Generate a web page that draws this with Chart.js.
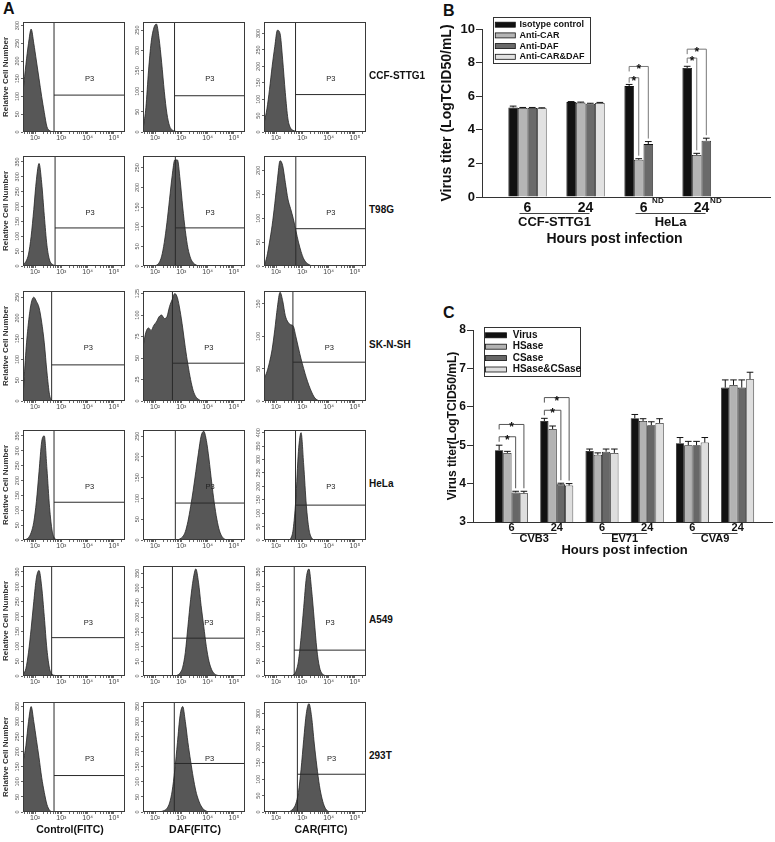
<!DOCTYPE html>
<html>
<head>
<meta charset="utf-8">
<script src="https://cdn.jsdelivr.net/npm/chart.js@4.4.1/dist/chart.umd.min.js"></script>
<style>
  body { margin: 0; background: #fff; }
  #fig { position: relative; width: 775px; height: 842px; overflow: hidden; font-family: "Liberation Sans", Arial, sans-serif; }
  #fig canvas { position: absolute; }
  .lbl { position: absolute; font-weight: bold; color: #111; white-space: nowrap; }
</style>
</head>
<body>
<div id="fig"></div>
<script>
  // ---- panel A: flow histograms (counts per log10 fluorescence bin) ----
  const logBins = [1.55,1.65,1.75,1.85,1.95,2.05,2.15,2.25,2.35,2.45,2.55,2.65,2.75,2.85,2.95,3.05,3.15,3.25,3.35,3.45,3.55,3.65,3.75,3.85,3.95,4.05,4.15,4.25,4.35,4.45,4.55,4.65,4.75,4.85,4.95,5.05,5.15,5.25,5.35];
  const cellLines = ['CCF-STTG1', 'T98G', 'SK-N-SH', 'HeLa', 'A549', '293T'];
  const stains = ['Control(FITC)', 'DAF(FITC)', 'CAR(FITC)'];

  const ccfControl  = [120,190,250,290,250,200,150,100,55,15,4,1,0];
  const ccfDAF      = [10,60,150,220,255,265,230,170,100,45,15,5,2,0];
  const ccfCAR      = [30,70,130,200,260,310,300,220,120,40,12,5,2,0];
  const t98gControl = [5,15,40,100,190,290,345,280,170,70,20,6,2,0];
  const t98gDAF     = [0,0,0,0,0,2,8,25,60,110,170,230,270,270,220,150,90,45,20,8,3,0];
  const t98gCAR     = [0,20,50,85,130,180,220,210,175,140,120,100,75,50,30,15,7,3,0];
  const skControl   = [20,120,190,235,250,240,225,190,140,70,15,0];
  const skDAF       = [65,80,85,82,88,92,98,100,96,98,110,118,125,120,105,85,62,42,25,12,5,2,0];
  const skCAR       = [35,45,60,80,110,145,168,155,132,122,118,116,100,82,65,50,36,24,14,6,2,0];
  const helaControl = [0,2,8,25,60,130,230,330,350,240,110,30,5,0];
  const helaDAF     = [0,0,0,0,0,0,0,0,0,0,0,0,0,0,3,8,20,45,80,120,165,210,250,262,240,195,140,90,50,22,8,2,0];
  const helaCAR     = [0,0,0,0,0,0,0,0,0,0,5,40,150,330,400,280,130,40,8,0];
  const a549Control = [5,25,80,160,250,330,355,300,200,90,25,6,2,0];
  const a549DAF     = [0,0,0,0,0,0,0,0,0,0,0,0,0,3,10,30,80,170,260,330,365,320,240,170,100,50,22,8,3,0];
  const a549CAR     = [0,0,0,0,0,0,0,0,0,0,0,3,15,50,130,230,330,360,290,190,90,30,8,2,0];
  const t293Control = [170,220,300,350,300,240,180,115,65,25,6,0];
  const t293DAF     = [0,0,0,0,0,0,0,2,5,12,30,70,140,230,320,350,300,230,170,115,70,40,20,8,3,0];
  const t293CAR     = [0,0,0,0,0,0,0,0,0,0,3,10,25,60,130,220,300,330,290,210,140,80,40,15,4,0];

  const histMax  = [[310,270,335],[370,280,230],[265,128,170],[370,265,410],[370,375,370],[365,365,335]];
  const histStep = [[50,50,50],[50,50,50],[50,25,50],[50,50,50],[50,50,50],[50,50,50]];
  const gateX    = [[2.72,2.74,2.74],[2.76,2.77,2.75],[2.63,2.66,2.64],[2.72,2.77,2.74],[2.63,2.66,2.69],[2.72,2.73,2.81]];
  const gateY    = [[104,89,114],[128,97,78],[87,44,60],[127,89,130],[129,129,87],[121,161,115]];

  // ---- panel B ----
  const hoursB = ['6', '24', '6', '24'];
  const cellsB = ['CCF-STTG1', 'HeLa'];
  const isotype = [5.33, 5.65, 6.6, 7.68],  isotypeErr = [0.08, 0.03, 0.1, 0.1];
  const antiCAR = [5.3, 5.62, 2.22, 2.5],   antiCARErr = [0.03, 0.03, 0.06, 0.1];
  const antiDAF = [5.3, 5.55, 3.15, 3.35],  antiDAFErr = [0.03, 0.03, 0.15, 0.15];
  const antiBoth = [5.28, 5.6, null, null], antiBothErr = [0.03, 0.03, 0, 0];
  const sigB = [[2, 0, 1, 7.1], [2, 0, 2, 7.77], [3, 0, 1, 8.27], [3, 0, 2, 8.8]];

  // ---- panel C ----
  const hoursC = ['6', '24', '6', '24', '6', '24'];
  const virusesC = ['CVB3', 'EV71', 'CVA9'];
  const virus = [4.87, 5.63, 4.85, 5.7, 5.05, 6.5],  virusErr = [0.13, 0.07, 0.05, 0.1, 0.15, 0.2];
  const hsase = [4.8, 5.42, 4.75, 5.63, 5.0, 6.57],  hsaseErr = [0.04, 0.08, 0.05, 0.06, 0.1, 0.13];
  const csase = [3.77, 3.98, 4.83, 5.52, 5.0, 6.5],  csaseErr = [0.03, 0.03, 0.07, 0.09, 0.1, 0.2];
  const hcsase = [3.75, 3.95, 4.8, 5.58, 5.07, 6.72], hcsaseErr = [0.05, 0.05, 0.1, 0.11, 0.13, 0.18];
  const sigC = [[0, 0, 2, 5.22], [0, 0, 3, 5.54], [1, 0, 2, 5.91], [1, 0, 3, 6.24]];

  const FAM = '"Liberation Sans", Arial, sans-serif';
  Chart.defaults.font.family = FAM;
  const fig = document.getElementById('fig');

  function mk(left, top, w, h) {
    const c = document.createElement('canvas');
    c.width = w; c.height = h;
    c.style.left = left + 'px'; c.style.top = top + 'px';
    c.style.width = w + 'px'; c.style.height = h + 'px';
    fig.appendChild(c);
    return c;
  }
  function label(text, left, top, size, extra) {
    const d = document.createElement('div');
    d.className = 'lbl';
    d.textContent = text;
    d.style.cssText += `left:${left}px;top:${top}px;font-size:${size}px;line-height:${size}px;` + (extra || '');
    fig.appendChild(d);
  }
  const fixSize = (prop, px) => scale => {
    scale[prop] = px;
    scale.paddingLeft = scale.paddingRight = scale.paddingTop = scale.paddingBottom = 0;
  };

  // frame + P3 gate label for the histograms
  const histFrame = {
    id: 'histFrame',
    afterDatasetsDraw(chart, args, o) {
      const {ctx, chartArea: a, scales: {x}} = chart;
      ctx.save();
      ctx.strokeStyle = '#3a3a3a'; ctx.lineWidth = 1;
      ctx.strokeRect(Math.round(a.left) + 0.5, Math.round(a.top) + 0.5, Math.round(a.width) - 1, Math.round(a.height) - 1);
      const gx = x.getPixelForValue(o.gate);
      ctx.fillStyle = '#222';
      ctx.font = '7.5px ' + FAM;
      ctx.textAlign = 'center'; ctx.textBaseline = 'middle';
      ctx.fillText('P3', (gx + a.right) / 2, a.top + a.height * 0.52);
      ctx.restore();
    }
  };

  const sup = {2: '\u00b2', 3: '\u00b3', 4: '\u2074', 5: '\u2075'};
  const logMin = 1.54, logMax = 5.42;
  const xTickVals = [];
  for (let n = 1; n <= 5; n++) for (let k = 1; k <= 9; k++) {
    const v = Math.log10(k) + n;
    if (v > logMin && v < logMax) xTickVals.push(v);
  }
  const histRows = [
    [ccfControl, ccfDAF, ccfCAR],
    [t98gControl, t98gDAF, t98gCAR],
    [skControl, skDAF, skCAR],
    [helaControl, helaDAF, helaCAR],
    [a549Control, a549DAF, a549CAR],
    [t293Control, t293DAF, t293CAR]
  ];
  const rowTop = [22, 156, 291, 430, 566, 702];
  const colLeft = [23, 143, 264];

  histRows.forEach((row, r) => row.forEach((counts, c) => {
    const yw = c === 0 ? 23 : 18;
    const ymax = histMax[r][c], gx = gateX[r][c], gy = gateY[r][c];
    new Chart(mk(colLeft[c] - yw, rowTop[r] - 2, yw + 104, 125), {
      type: 'line',
      data: {
        datasets: [
          { data: [{x: gx, y: 0}, {x: gx, y: ymax}], borderColor: '#2a2a2a', borderWidth: 1, pointRadius: 0 },
          { data: [{x: gx, y: gy}, {x: logMax, y: gy}], borderColor: '#2a2a2a', borderWidth: 1, pointRadius: 0 },
          {
            data: counts.map((v, i) => ({x: logBins[i], y: v})),
            fill: 'origin', backgroundColor: '#575757', borderColor: '#262626', borderWidth: 0.8,
            pointRadius: 0, cubicInterpolationMode: 'monotone'
          }
        ]
      },
      options: {
        responsive: false, animation: false,
        layout: { padding: { top: 2, right: 2, left: 0, bottom: 0 } },
        plugins: { legend: { display: false }, tooltip: { enabled: false }, histFrame: { gate: gx } },
        scales: {
          x: {
            type: 'linear', min: logMin, max: logMax,
            afterBuildTicks: s => { s.ticks = xTickVals.map(v => ({value: v})); },
            afterFit: fixSize('height', 13),
            ticks: {
              autoSkip: false, maxRotation: 0, padding: 0, color: '#444', font: { size: 7 },
              callback: v => Math.abs(v - Math.round(v)) < 1e-9 ? '10' + sup[Math.round(v)] : ''
            },
            grid: { drawOnChartArea: false, tickLength: 2, color: '#666' },
            border: { display: false }
          },
          y: {
            min: 0, max: ymax,
            afterFit: fixSize('width', yw),
            ticks: { stepSize: histStep[r][c], includeBounds: false, minRotation: 90, maxRotation: 90,
                     crossAlign: 'center', padding: -1, color: '#555', font: { size: 5.5 } },
            grid: { drawOnChartArea: false, tickLength: 2, color: '#666' },
            border: { display: false },
            title: c === 0
              ? { display: true, text: 'Relative Cell Number', color: '#333', font: { size: 8, weight: 'bold' }, padding: { top: 1, bottom: 0 } }
              : { display: false }
          }
        }
      },
      plugins: [histFrame]
    });
  }));

  cellLines.forEach((name, r) => label(name, 369, rowTop[r] + 49, 10));
  [70, 195, 321].forEach((cx, c) => label(stains[c], cx, 824, 10.5, 'transform:translateX(-50%);'));
  label('A', 3, 1, 16);
  label('B', 443, 3, 16);
  label('C', 443, 305, 16);

  // ---- shared bar chart plugins ----
  const errorBars = {
    id: 'errorBars',
    afterDatasetsDraw(chart, args, o) {
      const {ctx, scales: {y}} = chart;
      ctx.save();
      ctx.strokeStyle = '#111'; ctx.lineWidth = 1;
      chart.data.datasets.forEach((ds, di) => {
        chart.getDatasetMeta(di).data.forEach((bar, i) => {
          const v = ds.data[i].y, e = ds.errors[i];
          if (v == null || !e) return;
          const y0 = y.getPixelForValue(v), y1 = y.getPixelForValue(v + e);
          const cw = bar.width * o.cap / 2;
          ctx.beginPath();
          ctx.moveTo(bar.x, y0); ctx.lineTo(bar.x, y1);
          ctx.moveTo(bar.x - cw, y1); ctx.lineTo(bar.x + cw, y1);
          ctx.stroke();
        });
      });
      ctx.restore();
    }
  };

  const sigBrackets = {
    id: 'sigBrackets',
    afterDatasetsDraw(chart, args, o) {
      const {ctx, scales: {y}} = chart;
      const ds = chart.data.datasets;
      ctx.save();
      ctx.lineWidth = 1;
      ctx.font = 'bold 12px ' + FAM;
      ctx.textAlign = 'center'; ctx.textBaseline = 'alphabetic';
      o.marks.forEach(([g, a, b, level]) => {
        const pa = chart.getDatasetMeta(a).data[g], pb = chart.getDatasetMeta(b).data[g];
        const ly = y.getPixelForValue(level);
        const tb = y.getPixelForValue(ds[b].data[g].y + ds[b].errors[g]) - 3;
        ctx.strokeStyle = o.color;
        ctx.beginPath();
        ctx.moveTo(pa.x, ly + 5); ctx.lineTo(pa.x, ly); ctx.lineTo(pb.x, ly); ctx.lineTo(pb.x, tb);
        ctx.stroke();
        ctx.fillStyle = '#111';
        ctx.fillText('*', (pa.x + pb.x) / 2, ly + 7);
      });
      ctx.restore();
    }
  };

  const boxLegend = {
    id: 'boxLegend',
    afterDraw(chart, args, o) {
      const {ctx, chartArea: a} = chart;
      const left = Math.round(a.left + o.x), top = Math.round(a.top + o.y);
      ctx.save();
      ctx.fillStyle = '#fff';
      ctx.fillRect(left, top, o.w, o.h);
      ctx.strokeStyle = '#333'; ctx.lineWidth = 1;
      ctx.strokeRect(left + 0.5, top + 0.5, o.w, o.h);
      ctx.font = `bold ${o.size}px ${FAM}`;
      ctx.textBaseline = 'middle'; ctx.textAlign = 'left';
      chart.data.datasets.forEach((ds, i) => {
        const cy = top + o.first + i * o.row;
        ctx.fillStyle = ds.backgroundColor;
        ctx.fillRect(left + o.sx, cy - o.sh / 2, o.sw, o.sh);
        ctx.strokeStyle = '#111'; ctx.lineWidth = 0.8;
        ctx.strokeRect(left + o.sx, cy - o.sh / 2, o.sw, o.sh);
        ctx.fillStyle = '#111';
        ctx.fillText(ds.label, left + o.tx, cy);
      });
      ctx.restore();
    }
  };

  const groupAxis = {
    id: 'groupAxis',
    afterDraw(chart, args, o) {
      const {ctx, chartArea: a, scales: {x}} = chart;
      ctx.save();
      ctx.strokeStyle = '#444'; ctx.lineWidth = 1;
      ctx.fillStyle = '#111'; ctx.textAlign = 'center'; ctx.textBaseline = 'middle';
      ctx.font = `bold ${o.size}px ${FAM}`;
      o.names.forEach((name, i) => {
        const x0 = x.getPixelForValue(2 * i + 1) + o.extL, x1 = x.getPixelForValue(2 * i + 2) + o.extR;
        const ly = Math.round(a.bottom + o.lineY) + 0.5;
        ctx.beginPath(); ctx.moveTo(x0, ly); ctx.lineTo(x1, ly); ctx.stroke();
        ctx.fillText(name, (x0 + x1) / 2, a.bottom + o.textY);
      });
      ctx.font = `bold ${o.titleSize}px ${FAM}`;
      const xm = (x.getPixelForValue(1) + x.getPixelForValue(o.names.length * 2)) / 2;
      ctx.fillText('Hours post infection', xm, a.bottom + o.titleY);
      ctx.restore();
    }
  };

  const notDetected = {
    id: 'notDetected',
    afterDatasetsDraw(chart, args, o) {
      const {ctx, chartArea: a} = chart;
      const ds = chart.data.datasets[o.dataset];
      const meta = chart.getDatasetMeta(o.dataset);
      ctx.save();
      ctx.fillStyle = '#111'; ctx.font = 'bold 8px ' + FAM;
      ctx.textAlign = 'center'; ctx.textBaseline = 'middle';
      ds.data.forEach((p, i) => { if (p.y == null) ctx.fillText('ND', meta.data[i].x, a.bottom + 3.5); });
      ctx.restore();
    }
  };

  const toXY = arr => arr.map((v, i) => ({x: i + 1, y: v}));
  const barSet = (lbl, vals, errs, color) => ({
    label: lbl, data: toXY(vals), errors: errs,
    backgroundColor: color, borderColor: '#111', borderWidth: 0.8, borderSkipped: 'start'
  });

  // ---- panel B chart ----
  new Chart(mk(436, 0, 339, 250), {
    type: 'bar',
    data: {
      datasets: [
        barSet('Isotype control', isotype, isotypeErr, '#111111'),
        barSet('Anti-CAR', antiCAR, antiCARErr, '#b5b5b5'),
        barSet('Anti-DAF', antiDAF, antiDAFErr, '#6a6a6a'),
        barSet('Anti-CAR&DAF', antiBoth, antiBothErr, '#e2e2e2')
      ]
    },
    options: {
      responsive: false, animation: false,
      layout: { padding: { top: 29, right: 5 } },
      datasets: { bar: { categoryPercentage: 0.66, barPercentage: 1 } },
      plugins: {
        legend: { display: false }, tooltip: { enabled: false },
        errorBars: { cap: 0.7 },
        sigBrackets: { marks: sigB, color: '#777' },
        notDetected: { dataset: 3 },
        boxLegend: { x: 10.7, y: -12, w: 97, h: 46, first: 7.7, row: 10.7, sx: 2.3, sw: 20, sh: 5, tx: 26.5, size: 9 },
        groupAxis: { names: cellsB, extL: -8, extR: 4, lineY: 16.3, textY: 25.3, size: 13, titleY: 42.3, titleSize: 14 }
      },
      scales: {
        x: {
          type: 'linear', min: 0.216, max: 5.18, offset: false,
          afterBuildTicks: s => { s.ticks = hoursB.map((h, i) => ({value: i + 1})); },
          afterFit: fixSize('height', 53),
          ticks: { autoSkip: false, maxRotation: 0, padding: 3, color: '#111', font: { size: 14, weight: 'bold' },
                   callback: (v, i) => hoursB[i] },
          grid: { drawOnChartArea: false, drawTicks: false },
          border: { color: '#333', width: 1 }
        },
        y: {
          min: 0, max: 10,
          afterFit: fixSize('width', 46),
          ticks: { stepSize: 2, padding: 1, color: '#111', font: { size: 13, weight: 'bold' } },
          grid: { drawOnChartArea: false, tickLength: 6, color: '#333' },
          border: { color: '#333', width: 1 },
          title: { display: true, text: 'Virus titer (LogTCID50/mL)', color: '#111',
                   font: { size: 14, weight: 'bold' }, padding: { top: 3, bottom: 0 } }
        }
      }
    },
    plugins: [errorBars, sigBrackets, notDetected, boxLegend, groupAxis]
  });

  // ---- panel C chart ----
  new Chart(mk(443, 300, 332, 260), {
    type: 'bar',
    data: {
      datasets: [
        barSet('Virus', virus, virusErr, '#111111'),
        barSet('HSase', hsase, hsaseErr, '#b3b3b3'),
        barSet('CSase', csase, csaseErr, '#676767'),
        barSet('HSase&CSase', hcsase, hcsaseErr, '#dedede')
      ]
    },
    options: {
      responsive: false, animation: false,
      layout: { padding: { top: 30, right: 3 } },
      datasets: { bar: { categoryPercentage: 0.73, barPercentage: 1 } },
      plugins: {
        legend: { display: false }, tooltip: { enabled: false },
        errorBars: { cap: 0.8 },
        sigBrackets: { marks: sigC, color: '#555' },
        boxLegend: { x: 11, y: -3.3, w: 96, h: 49, first: 8.3, row: 11.4, sx: 1.5, sw: 21, sh: 5, tx: 28.7, size: 10 },
        groupAxis: { names: virusesC, extL: 0, extR: 0, lineY: 10.7, textY: 17.3, size: 11, titleY: 28.7, titleSize: 13 }
      },
      scales: {
        x: {
          type: 'linear', min: 0.148, max: 6.76, offset: false,
          afterBuildTicks: s => { s.ticks = hoursC.map((h, i) => ({value: i + 1})); },
          afterFit: fixSize('height', 38),
          ticks: { autoSkip: false, maxRotation: 0, padding: -1, color: '#111', font: { size: 11, weight: 'bold' },
                   callback: (v, i) => hoursC[i] },
          grid: { drawOnChartArea: false, drawTicks: false },
          border: { color: '#333', width: 1 }
        },
        y: {
          min: 3, max: 8,
          afterFit: fixSize('width', 30),
          ticks: { stepSize: 1, padding: 1, color: '#111', font: { size: 12, weight: 'bold' } },
          grid: { drawOnChartArea: false, tickLength: 6, color: '#333' },
          border: { color: '#333', width: 1 },
          title: { display: true, text: 'Virus titer(LogTCID50/mL)', color: '#111',
                   font: { size: 12, weight: 'bold' }, padding: { top: 2.8, bottom: 0 } }
        }
      }
    },
    plugins: [errorBars, sigBrackets, boxLegend, groupAxis]
  });
</script>
</body>
</html>
